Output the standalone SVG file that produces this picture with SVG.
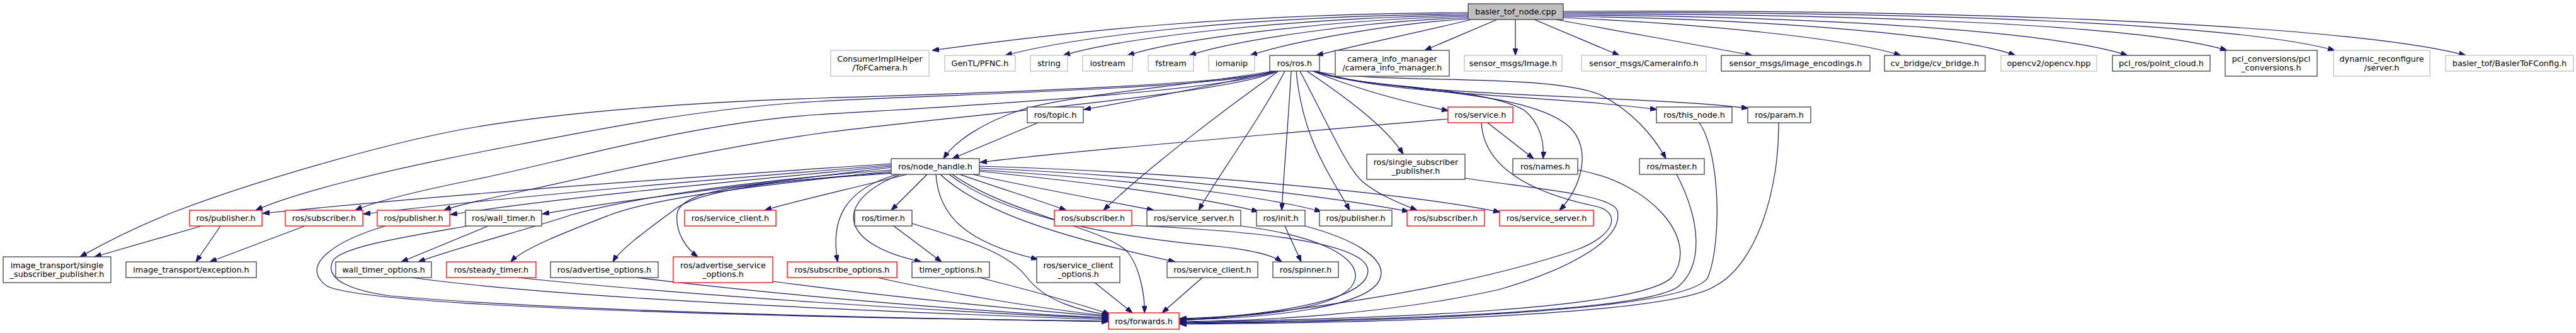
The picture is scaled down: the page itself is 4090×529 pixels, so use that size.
<svg xmlns="http://www.w3.org/2000/svg" width="4090" height="529" viewBox="0 0 4090 529">
<style>
rect{stroke-width:1.3}
.k{fill:#fff;stroke:#404040}
.g{fill:#fff;stroke:#bfbfbf}
.r{fill:#fff;stroke:#ff0000}
.root{fill:#bfbfbf;stroke:#404040}
text{font-family:"DejaVu Sans","Liberation Sans",sans-serif;font-size:12.8px;text-anchor:middle;fill:#000}
#edges path{fill:none;stroke:#191970;stroke-width:1.2;marker-end:url(#ah)}
</style>
<defs>
<marker id="ah" viewBox="0 0 11 8" refX="11" refY="4" markerWidth="11" markerHeight="8" markerUnits="userSpaceOnUse" orient="auto"><path d="M0,0 L11,4 L0,8 z" fill="#191970" stroke="#191970" stroke-width="1"/></marker>
</defs>
<rect width="4090" height="529" fill="#fff"/>
<g id="edges">
<path d="M2331,20 C1950,22 1700,50 1480,80"/>
<path d="M2331,22 C2000,25 1720,55 1596,88"/>
<path d="M2331,24 C2060,28 1790,58 1688,88"/>
<path d="M2331,26 C2110,31 1870,62 1790,88"/>
<path d="M2331,28 C2160,34 1960,64 1888,88"/>
<path d="M2331,30 C2210,37 2050,66 1985,88"/>
<path d="M2336,31 C2260,50 2160,70 2090,88"/>
<path d="M2377,31 L2262,80"/>
<path d="M2406,31 L2406,88"/>
<path d="M2436,31 L2571,88"/>
<path d="M2470,31 C2600,55 2700,72 2782,88"/>
<path d="M2482,28 C2700,38 2930,60 3018,88"/>
<path d="M2482,26 C2800,30 3110,55 3200,88"/>
<path d="M2482,24 C2900,26 3260,50 3378,88"/>
<path d="M2482,22 C3000,22 3410,42 3536,80"/>
<path d="M2482,20 C3100,18 3560,40 3707,80"/>
<path d="M2482,18 C3200,14 3760,45 3915,88"/>
<path d="M2024,113 C1920,138 1800,160 1721,174"/>
<path d="M2020,113 C1900,135 1700,150 1620,175 C1560,195 1515,225 1498,252"/>
<path d="M2084,113 C2150,140 2230,162 2300,176"/>
<path d="M2075,113 C2130,150 2200,200 2228,245"/>
<path d="M2088,113 C2200,152 2450,150 2631,174"/>
<path d="M2090,113 C2200,155 2600,150 2776,172"/>
<path d="M2086,113 C2150,140 2350,135 2420,175 C2445,195 2452,225 2450,252"/>
<path d="M2087,113 C2200,148 2420,140 2490,200 C2530,235 2510,300 2476,334"/>
<path d="M2085,113 C2200,135 2450,115 2540,150 C2590,175 2625,215 2645,252"/>
<path d="M2050,113 C2045,200 2038,280 2035,334"/>
<path d="M2058,113 C2068,220 2110,275 2143,334"/>
<path d="M2064,113 C2110,200 2140,270 2165,290 C2190,310 2220,322 2250,334"/>
<path d="M2040,113 C2000,190 1940,270 1903,334"/>
<path d="M2030,113 C1950,170 1830,260 1752,334"/>
<path d="M2022,113 C1960,135 1500,150 1300,156 C1100,162 900,178 760,201 C620,224 400,290 286,333 C206,363 150,395 127,408"/>
<path d="M2025,113 C1950,140 1500,150 1300,161 C1100,172 900,215 760,242 C620,269 470,305 406,334"/>
<path d="M2027,113 C1950,145 1500,170 1300,182 C1100,195 900,255 760,284 C680,300 600,318 564,334"/>
<path d="M2029,113 C1950,150 1500,185 1300,212 C1100,240 850,300 760,319 C735,325 718,329 705,334"/>
<path d="M1648,195 L1512,252"/>
<path d="M2299,189 C2000,215 1700,240 1556,258"/>
<path d="M2362,195 L2435,252"/>
<path d="M2352,195 C2355,250 2400,300 2535,328 C2575,338 2565,375 2500,398 C2300,465 2000,503 1873,509"/>
<path d="M1415,260 C1200,275 800,300 417,339"/>
<path d="M1415,262 C1200,280 850,308 577,340"/>
<path d="M1415,264 C1200,285 900,312 715,341"/>
<path d="M1415,266 C1300,280 1000,315 861,340"/>
<path d="M1415,270 C1150,290 980,320 905,342 C860,358 720,395 664,416"/>
<path d="M1415,272 C1250,290 1050,310 967,342 C900,368 830,395 811,416"/>
<path d="M1418,274 C1250,285 1120,300 1075,330 C1035,360 985,395 973,416"/>
<path d="M1420,275 C1200,290 1080,300 1075,340 C1072,370 1090,395 1108,408"/>
<path d="M1440,277 C1350,300 1260,320 1214,334"/>
<path d="M1425,277 C1340,300 1318,350 1330,416"/>
<path d="M1430,277 C1330,315 1320,385 1463,416"/>
<path d="M1472,277 L1415,334"/>
<path d="M1524,277 C1590,300 1640,315 1693,334"/>
<path d="M1544,277 C1650,300 1750,318 1832,334"/>
<path d="M1555,272 C1750,292 1900,312 1998,336"/>
<path d="M1555,270 C1800,286 2000,310 2098,336"/>
<path d="M1555,267 C1850,280 2100,310 2237,336"/>
<path d="M1555,264 C1900,274 2250,310 2382,337"/>
<path d="M1486,277 C1490,340 1530,385 1648,412"/>
<path d="M1493,277 C1560,340 1700,380 1866,416"/>
<path d="M1507,277 C1600,350 1800,380 1940,392 C1990,398 2020,405 2035,416"/>
<path d="M1512,277 C1600,340 1750,360 1790,400 C1810,425 1818,470 1817,497"/>
<path d="M320,359 L150,408"/>
<path d="M350,359 L311,416"/>
<path d="M484,359 L333,416"/>
<path d="M612,359 C540,380 470,420 520,455 C600,490 1300,505 1760,510"/>
<path d="M742,359 C650,375 540,392 528,415 C515,445 560,462 620,470 C900,495 1400,505 1760,511"/>
<path d="M775,359 L637,416"/>
<path d="M1419,359 L1495,416"/>
<path d="M1448,355 C1530,380 1600,400 1630,440 C1660,480 1720,495 1761,500"/>
<path d="M1797,358 C1950,365 2170,380 2172,430 C2172,480 2000,503 1873,506"/>
<path d="M1970,359 C2100,375 2155,410 2152,440 C2148,490 2000,503 1873,507"/>
<path d="M2040,359 L2066,416"/>
<path d="M2072,359 C2150,380 2200,410 2192,440 C2180,490 2000,506 1873,508"/>
<path d="M2326,283 C2420,298 2560,308 2568,335 C2578,378 2500,425 2380,460 C2200,500 2000,510 1873,511"/>
<path d="M2505,270 C2620,290 2700,380 2655,440 C2605,492 2200,506 1873,512"/>
<path d="M2662,277 C2700,350 2705,420 2665,455 C2610,496 2200,509 1873,513"/>
<path d="M2698,195 C2730,240 2735,380 2712,440 C2685,496 2200,511 1873,514"/>
<path d="M2824,195 C2825,300 2790,420 2722,455 C2650,500 2200,513 1873,515"/>
<path d="M654,441 C900,475 1400,495 1760,508"/>
<path d="M822,441 C1100,470 1500,495 1760,506"/>
<path d="M1011,441 C1250,470 1550,495 1760,505"/>
<path d="M1227,447 C1400,470 1600,490 1760,503"/>
<path d="M1393,441 C1500,465 1650,490 1760,502"/>
<path d="M1555,441 C1650,465 1720,485 1762,499"/>
<path d="M1737,448 L1798,497"/>
<path d="M1909,441 L1845,497"/>
</g>
<g id="basler_tof_node"><rect class="root" x="2331" y="6" width="151" height="25"/><text x="2406.5" y="23">basler_tof_node.cpp</text></g>
<g id="consumerimplhelper"><rect class="g" x="1319" y="80" width="156" height="41"/><text x="1397" y="97.5">ConsumerImplHelper</text><text x="1397" y="111.5">/ToFCamera.h</text></g>
<g id="gentl_pfnc"><rect class="g" x="1500" y="88" width="112" height="25"/><text x="1556" y="105">GenTL/PFNC.h</text></g>
<g id="string"><rect class="g" x="1636" y="88" width="59" height="25"/><text x="1665.5" y="105">string</text></g>
<g id="iostream"><rect class="g" x="1719" y="88" width="79" height="25"/><text x="1758.5" y="105">iostream</text></g>
<g id="fstream"><rect class="g" x="1823" y="88" width="72" height="25"/><text x="1859" y="105">fstream</text></g>
<g id="iomanip"><rect class="g" x="1919" y="88" width="73" height="25"/><text x="1955.5" y="105">iomanip</text></g>
<g id="ros_ros"><rect class="k" x="2016" y="88" width="79" height="25"/><text x="2055.5" y="105">ros/ros.h</text></g>
<g id="camera_info_manager"><rect class="k" x="2120" y="80" width="181" height="41"/><text x="2210.5" y="97.5">camera_info_manager</text><text x="2210.5" y="111.5">/camera_info_manager.h</text></g>
<g id="sensor_image"><rect class="g" x="2325" y="88" width="155" height="25"/><text x="2402.5" y="105">sensor_msgs/Image.h</text></g>
<g id="sensor_camerainfo"><rect class="g" x="2511" y="88" width="198" height="25"/><text x="2610" y="105">sensor_msgs/CameraInfo.h</text></g>
<g id="sensor_encodings"><rect class="k" x="2733" y="88" width="236" height="25"/><text x="2851" y="105">sensor_msgs/image_encodings.h</text></g>
<g id="cv_bridge"><rect class="k" x="2992" y="88" width="160" height="25"/><text x="3072" y="105">cv_bridge/cv_bridge.h</text></g>
<g id="opencv"><rect class="g" x="3177" y="88" width="152" height="25"/><text x="3253" y="105">opencv2/opencv.hpp</text></g>
<g id="pcl_ros"><rect class="k" x="3354" y="88" width="155" height="25"/><text x="3431.5" y="105">pcl_ros/point_cloud.h</text></g>
<g id="pcl_conversions"><rect class="k" x="3533" y="80" width="146" height="41"/><text x="3606" y="97.5">pcl_conversions/pcl</text><text x="3606" y="111.5">_conversions.h</text></g>
<g id="dynamic_reconfigure"><rect class="g" x="3705" y="80" width="153" height="41"/><text x="3781.5" y="97.5">dynamic_reconfigure</text><text x="3781.5" y="111.5">/server.h</text></g>
<g id="basler_config"><rect class="g" x="3883" y="88" width="203" height="25"/><text x="3984.5" y="105">basler_tof/BaslerToFConfig.h</text></g>
<g id="ros_topic"><rect class="k" x="1631" y="170" width="89" height="25"/><text x="1675.5" y="187">ros/topic.h</text></g>
<g id="ros_service"><rect class="r" x="2299" y="170" width="103" height="25"/><text x="2350.5" y="187">ros/service.h</text></g>
<g id="ros_this_node"><rect class="k" x="2630" y="170" width="120" height="25"/><text x="2690" y="187">ros/this_node.h</text></g>
<g id="ros_param"><rect class="k" x="2775" y="170" width="100" height="25"/><text x="2825" y="187">ros/param.h</text></g>
<g id="ros_node_handle"><rect class="k" x="1415" y="252" width="140" height="25"/><text x="1485" y="269">ros/node_handle.h</text></g>
<g id="ros_single_subscriber_publisher"><rect class="k" x="2170" y="245" width="156" height="40"/><text x="2248" y="262">ros/single_subscriber</text><text x="2248" y="276">_publisher.h</text></g>
<g id="ros_names"><rect class="k" x="2402" y="252" width="103" height="25"/><text x="2453.5" y="269">ros/names.h</text></g>
<g id="ros_master"><rect class="k" x="2603" y="252" width="103" height="25"/><text x="2654.5" y="269">ros/master.h</text></g>
<g id="ros_publisher_a"><rect class="r" x="301" y="334" width="115" height="25"/><text x="358.5" y="351">ros/publisher.h</text></g>
<g id="ros_subscriber_a"><rect class="r" x="453" y="334" width="123" height="25"/><text x="514.5" y="351">ros/subscriber.h</text></g>
<g id="ros_publisher_b"><rect class="r" x="599" y="334" width="115" height="25"/><text x="656.5" y="351">ros/publisher.h</text></g>
<g id="ros_wall_timer"><rect class="k" x="739" y="334" width="121" height="25"/><text x="799.5" y="351">ros/wall_timer.h</text></g>
<g id="ros_service_client_red"><rect class="r" x="1087" y="334" width="145" height="25"/><text x="1159.5" y="351">ros/service_client.h</text></g>
<g id="ros_timer"><rect class="k" x="1357" y="334" width="91" height="25"/><text x="1402.5" y="351">ros/timer.h</text></g>
<g id="ros_subscriber_b"><rect class="r" x="1674" y="334" width="123" height="25"/><text x="1735.5" y="351">ros/subscriber.h</text></g>
<g id="ros_service_server"><rect class="k" x="1821" y="334" width="149" height="25"/><text x="1895.5" y="351">ros/service_server.h</text></g>
<g id="ros_init"><rect class="k" x="1995" y="334" width="77" height="25"/><text x="2033.5" y="351">ros/init.h</text></g>
<g id="ros_publisher"><rect class="k" x="2095" y="334" width="115" height="25"/><text x="2152.5" y="351">ros/publisher.h</text></g>
<g id="ros_subscriber_c"><rect class="r" x="2234" y="334" width="123" height="25"/><text x="2295.5" y="351">ros/subscriber.h</text></g>
<g id="ros_service_server_red"><rect class="r" x="2381" y="334" width="149" height="25"/><text x="2455.5" y="351">ros/service_server.h</text></g>
<g id="it_single_subscriber_publisher"><rect class="k" x="5" y="408" width="171" height="41"/><text x="90.5" y="425.5">image_transport/single</text><text x="90.5" y="439.5">_subscriber_publisher.h</text></g>
<g id="it_exception"><rect class="k" x="200" y="416" width="207" height="25"/><text x="303.5" y="433">image_transport/exception.h</text></g>
<g id="wall_timer_options"><rect class="k" x="533" y="416" width="152" height="25"/><text x="609" y="433">wall_timer_options.h</text></g>
<g id="ros_steady_timer"><rect class="r" x="709" y="416" width="142" height="25"/><text x="780" y="433">ros/steady_timer.h</text></g>
<g id="ros_advertise_options"><rect class="k" x="874" y="416" width="171" height="25"/><text x="959.5" y="433">ros/advertise_options.h</text></g>
<g id="ros_advertise_service_options"><rect class="r" x="1069" y="408" width="158" height="41"/><text x="1148" y="425.5">ros/advertise_service</text><text x="1148" y="439.5">_options.h</text></g>
<g id="ros_subscribe_options"><rect class="r" x="1250" y="416" width="174" height="25"/><text x="1337" y="433">ros/subscribe_options.h</text></g>
<g id="timer_options"><rect class="k" x="1448" y="416" width="123" height="25"/><text x="1509.5" y="433">timer_options.h</text></g>
<g id="ros_service_client_options"><rect class="k" x="1646" y="408" width="132" height="41"/><text x="1712" y="425.5">ros/service_client</text><text x="1712" y="439.5">_options.h</text></g>
<g id="ros_service_client"><rect class="k" x="1853" y="416" width="144" height="25"/><text x="1925" y="433">ros/service_client.h</text></g>
<g id="ros_spinner"><rect class="k" x="2021" y="416" width="104" height="25"/><text x="2073" y="433">ros/spinner.h</text></g>
<g id="ros_forwards"><rect class="r" x="1760" y="497" width="112" height="26"/><text x="1816" y="514.5">ros/forwards.h</text></g>
</svg>
